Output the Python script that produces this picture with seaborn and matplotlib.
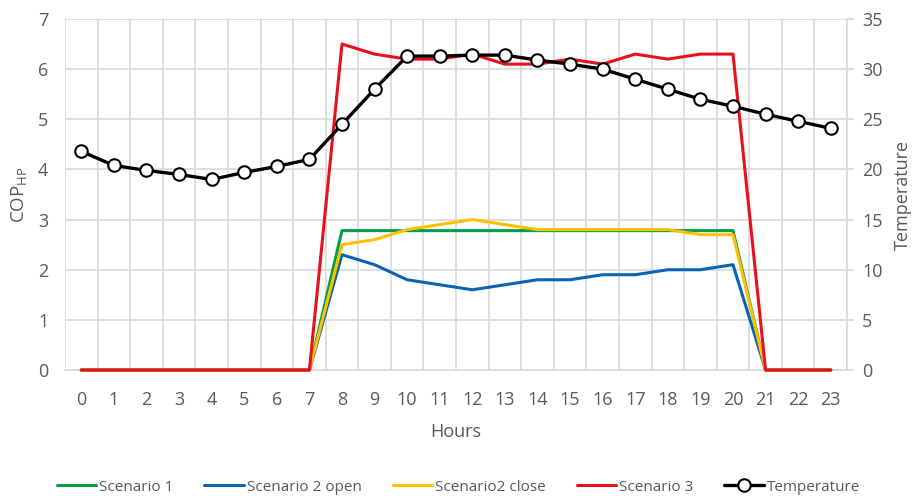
import matplotlib
matplotlib.use("Agg")
import matplotlib.pyplot as plt
import seaborn as sns
import pandas as pd
import numpy as np

hours = list(range(24))
scenario1 = [0]*8 + [2.78]*13 + [0, 0, 0]
scenario2_open = [0]*8 + [2.3, 2.1, 1.8, 1.7, 1.6, 1.7, 1.8, 1.8, 1.9, 1.9, 2.0, 2.0, 2.1] + [0, 0, 0]
scenario2_close = [0]*8 + [2.5, 2.6, 2.8, 2.9, 3.0, 2.9, 2.8, 2.8, 2.8, 2.8, 2.8, 2.7, 2.7] + [0, 0, 0]
scenario3 = [0]*8 + [6.5, 6.3, 6.2, 6.2, 6.3, 6.1, 6.1, 6.2, 6.1, 6.3, 6.2, 6.3, 6.3] + [0, 0, 0]
temperature = [21.8, 20.4, 19.9, 19.5, 19.0, 19.7, 20.3, 21.0, 24.5, 28.0, 31.3, 31.3, 31.4,
               31.4, 30.9, 30.5, 30.0, 29.0, 28.0, 27.0, 26.3, 25.5, 24.8, 24.1]

series_names = ["Scenario 1", "Scenario 2 open", "Scenario2 close", "Scenario 3"]
series_values = [scenario1, scenario2_open, scenario2_close, scenario3]
series_colors = ["#00A04A", "#0A64B4", "#FFC000", "#E8101A"]

sns.set_style("white")
plt.rcParams['font.family'] = ['Open Sans', 'DejaVu Sans']
gray = "#595959"
gridc = "#D9D9D9"

fig = plt.figure(figsize=(9.17, 4.96), dpi=100)
ax = fig.add_axes([0.0709, 0.254, 0.8528, 0.7077])
ax2 = ax.twinx()

handles = []
for name, vals, col in zip(series_names, series_values, series_colors):
    df = pd.DataFrame({"h": hours, "v": vals})
    sns.lineplot(data=df, x="h", y="v", ax=ax, color=col, linewidth=2.2, label=name, legend=False)
    ax.lines[-1].set_clip_on(False)
    handles.append(ax.lines[-1])

dft = pd.DataFrame({"h": hours, "t": temperature})
sns.lineplot(data=dft, x="h", y="t", ax=ax2, color="black", linewidth=2.4, marker="o",
             markersize=9, markerfacecolor="white", markeredgecolor="black",
             markeredgewidth=1.5, label="Temperature", legend=False)
handles.append(ax2.lines[-1])

ax.set_xlim(-0.5, 23.5)
ax.set_ylim(0, 7)
ax2.set_ylim(0, 35)
ax.set_xticks(hours)
ax.set_xticks(np.arange(-0.5, 24, 1), minor=True)
ax.set_yticks(range(8))
ax2.set_yticks(range(0, 36, 5))

ax.grid(False)
ax2.grid(False)
ax.grid(True, which="minor", axis="x", color=gridc, linewidth=1.2)
ax.grid(True, which="major", axis="y", color=gridc, linewidth=1.2)
ax.set_axisbelow(True)

for s in ["top", "left", "right"]:
    ax.spines[s].set_visible(False)
for s in ["top", "left"]:
    ax2.spines[s].set_visible(False)
ax.spines["bottom"].set_color(gridc)
ax.spines["bottom"].set_linewidth(1.2)
ax.spines["bottom"].set_zorder(0.5)
ax2.spines["bottom"].set_visible(False)
ax2.spines["right"].set_color(gridc)
ax2.spines["right"].set_linewidth(1.2)

ax.tick_params(axis="x", which="both", length=0, colors=gray, labelsize=13, pad=15)
ax.tick_params(axis="y", length=0, colors=gray, labelsize=13, pad=12)
ax2.tick_params(axis="y", length=5, width=1.2, colors=gray, labelsize=13, pad=6)
ax2.tick_params(axis="y", color=gridc)

ax.set_xlabel("Hours", color=gray, fontsize=13, labelpad=10)
ax.set_ylabel(r"COP$_{\mathregular{HP}}$", color=gray, fontsize=13.5, labelpad=6)
ax2.set_ylabel("Temperature", color=gray, fontsize=13, labelpad=8)

fig.legend(handles=handles, labels=series_names + ["Temperature"], loc="lower center",
           bbox_to_anchor=(0.5, -0.025), ncol=5, frameon=False, fontsize=11,
           handlelength=2.6, handletextpad=0.2, columnspacing=2.0, labelcolor=gray)

fig.savefig("out.png", dpi=100)
